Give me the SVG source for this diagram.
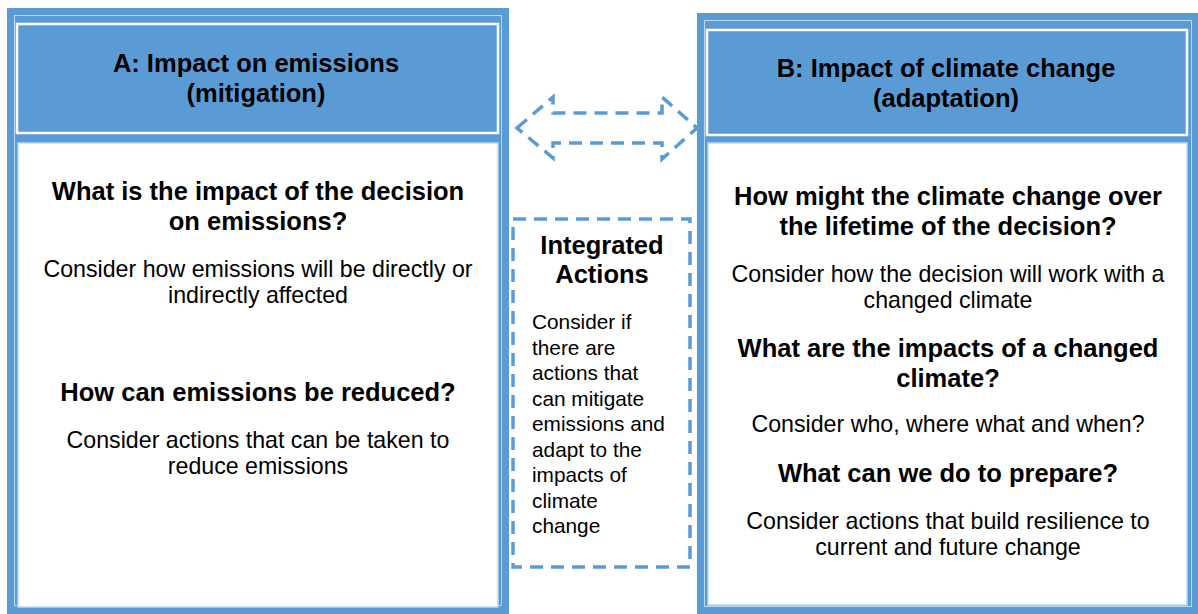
<svg xmlns="http://www.w3.org/2000/svg" width="1198" height="614" viewBox="0 0 1198 614">
<style>
.frame{fill:#5B9BD5}
.inner{fill:none;stroke:#BDD7EE;stroke-width:1}
.hdr{fill:#5B9BD5;stroke:#FFFFFF;stroke-width:2.5}
.body{fill:#FFFFFF;stroke:#BDD7EE;stroke-width:1.5}
.dash{fill:none;stroke:#5B9BD5;stroke-width:3.5;stroke-dasharray:13 8}
text{font-family:"Liberation Sans",Arial,sans-serif;fill:#000}
.h{font-size:25.5px;font-weight:bold;text-anchor:middle}
.q{font-size:25.5px;font-weight:bold;text-anchor:middle}
.t{font-size:23.2px;text-anchor:middle}
.s{font-size:20.8px}
</style>
<rect width="1198" height="614" fill="#FFFFFF"/>
<g id="nodeA">
<rect class="frame" x="7" y="8" width="502" height="606"/>
<rect class="inner" x="14.5" y="15.5" width="487" height="590"/>
<rect class="hdr" x="17" y="24" width="481" height="109"/>
<rect class="body" x="18" y="143" width="480" height="464"/>
<text class="h" x="256" y="72">A: Impact on emissions</text>
<text class="h" x="256" y="102">(mitigation)</text>
<text class="q" x="258" y="200">What is the impact of the decision</text>
<text class="q" x="258" y="230">on emissions?</text>
<text class="t" x="258" y="276.5">Consider how emissions will be directly or</text>
<text class="t" x="258" y="302.5">indirectly affected</text>
<text class="q" x="258" y="401">How can emissions be reduced?</text>
<text class="t" x="258" y="447.5">Consider actions that can be taken to</text>
<text class="t" x="258" y="473.5">reduce emissions</text>
</g>
<g id="nodeB">
<rect class="frame" x="697" y="13" width="501" height="601"/>
<rect class="inner" x="704.5" y="20.5" width="487" height="586"/>
<rect class="hdr" x="707" y="30" width="480" height="105"/>
<rect class="body" x="708" y="143" width="479" height="462"/>
<text class="h" x="946" y="77">B: Impact of climate change</text>
<text class="h" x="946" y="107">(adaptation)</text>
<text class="q" x="948" y="205">How might the climate change over</text>
<text class="q" x="948" y="235">the lifetime of the decision?</text>
<text class="t" x="948" y="281.5">Consider how the decision will work with a</text>
<text class="t" x="948" y="307.5">changed climate</text>
<text class="q" x="948" y="357">What are the impacts of a changed</text>
<text class="q" x="948" y="387">climate?</text>
<text class="t" x="948" y="431.5">Consider who, where what and when?</text>
<text class="q" x="948" y="482">What can we do to prepare?</text>
<text class="t" x="948" y="528.5">Consider actions that build resilience to</text>
<text class="t" x="948" y="554.5">current and future change</text>
</g>
<g id="nodeC">
<rect class="dash" x="513" y="219" width="177" height="348"/>
<text class="h" x="602" y="254">Integrated</text>
<text class="h" x="602" y="283">Actions</text>
<text class="s" x="532" y="329">Consider if</text>
<text class="s" x="532" y="354.5">there are</text>
<text class="s" x="532" y="380">actions that</text>
<text class="s" x="532" y="405.5">can mitigate</text>
<text class="s" x="532" y="431">emissions and</text>
<text class="s" x="532" y="456.5">adapt to the</text>
<text class="s" x="532" y="482">impacts of</text>
<text class="s" x="532" y="507.5">climate</text>
<text class="s" x="532" y="533">change</text>
</g>
<g id="connectors">
<path class="dash" d="M517,128 L553,97 L553,113 L662,113 L662,97 L697,128 L662,159 L662,143 L553,143 L553,158 Z"/>
</g>
</svg>
